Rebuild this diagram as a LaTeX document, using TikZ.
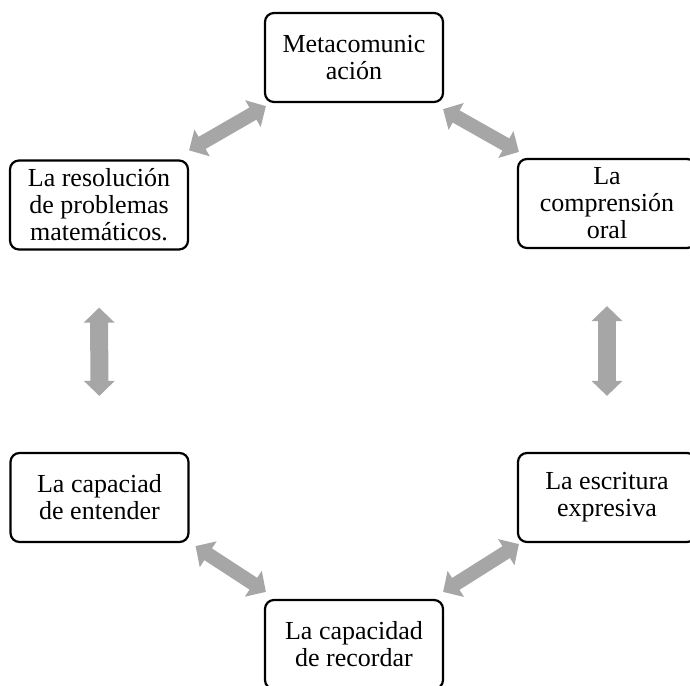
\documentclass[tikz,border=0pt]{standalone}
\usepackage{fontspec}
\setmainfont{Liberation Serif}
\usetikzlibrary{arrows.meta}
\definecolor{linkgray}{HTML}{A6A6A6}
\newcommand{\boxfont}{\fontsize{26}{27}\selectfont}

\begin{document}
\begin{tikzpicture}[x=1pt, y=-1pt,
    topic/.style={draw, line width=2.2pt, rounded corners=9pt, minimum width=178pt, minimum height=89pt, inner sep=0pt, align=center, font=\boxfont},
    link/.style={draw=linkgray, line width=#1, {Triangle[length=15pt,width=30pt]}-{Triangle[length=15pt,width=30pt]}},
    link/.default=14pt]
        \useasboundingbox (0,0) rectangle (690,685);
        \clip (0,0) rectangle (690,685);
        %nodes
        \node[topic] (meta) at (354, 57.5) {Metacomunic\\ación};
        \node[topic] (compr) at (607, 203.5) {La\\comprensión\\oral};
        \node[topic] (resol) at (99, 205) {La resolución\\de problemas\\matemáticos.};
        \node[topic] (entender) at (99.5, 497.5) {La capaciad\\de entender};
        \node[topic] (escritura) at (607, 497.5) {La escritura\\expresiva};
        \node[topic] (recordar) at (354, 644.5) {La capacidad\\de recordar};
        %edges
        \path [link] ([shift={(0,-9)}]resol.north east) to ([shift={(2,3)}]meta.south west);
        \path [link] ([shift={(-1,6)}]meta.south east) to ([shift={(2,-6)}]compr.north west);
        \path [link=18pt, shorten <=57pt, shorten >=56pt] (resol.south) to (entender.north);
        \path [link=18pt, shorten <=57pt, shorten >=56pt] (compr.south) to (escritura.north);
        \path [link] ([shift={(6,3)}]entender.south east) to ([shift={(2,-7)}]recordar.north west);
        \path [link] ([shift={(-1,-7)}]recordar.north east) to ([shift={(2,1)}]escritura.south west);
      \end{tikzpicture}
\end{document}
